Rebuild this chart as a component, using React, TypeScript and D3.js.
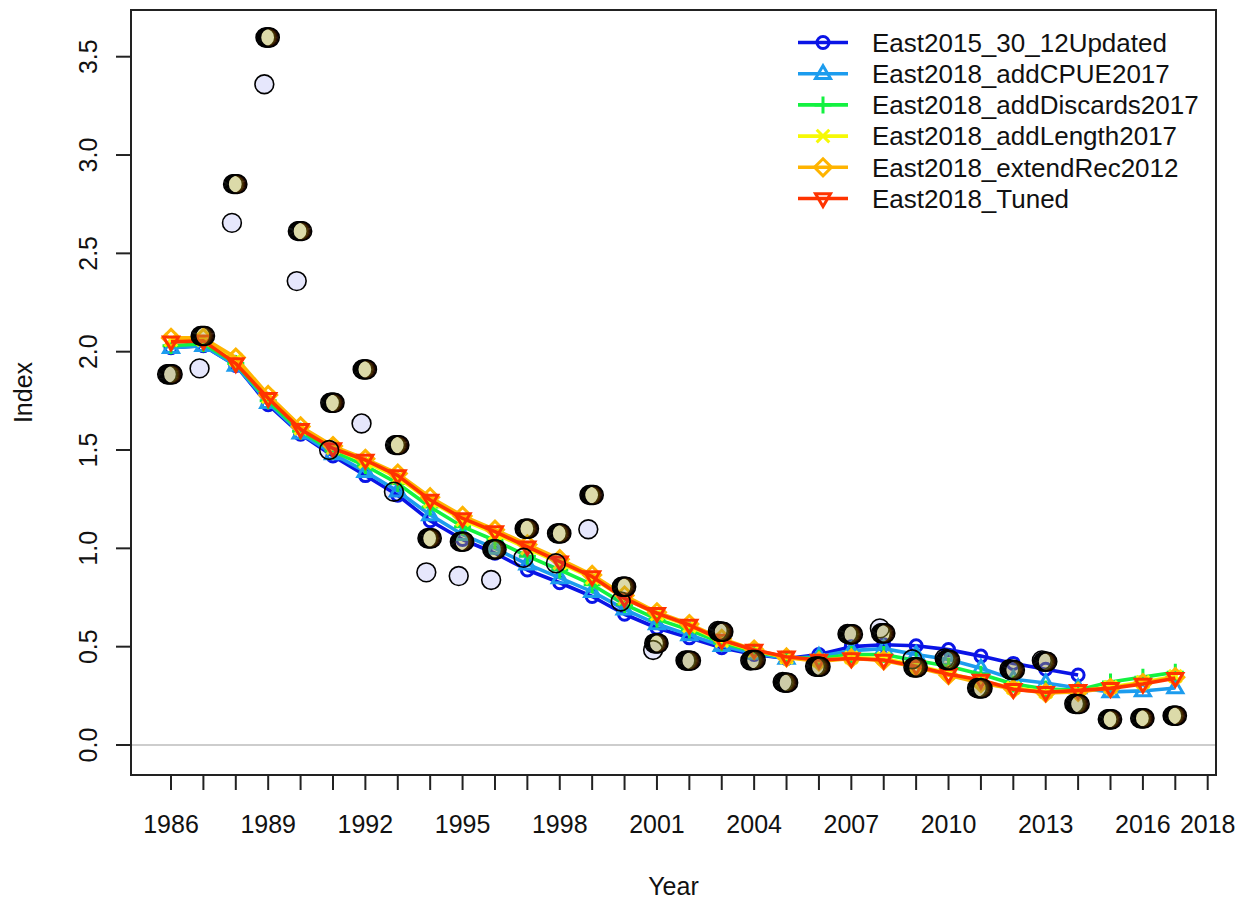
import React from "react";
import * as d3 from "d3";

const years = [1986, 1987, 1988, 1989, 1990, 1991, 1992, 1993, 1994, 1995, 1996, 1997, 1998, 1999, 2000, 2001, 2002, 2003, 2004, 2005, 2006, 2007, 2008, 2009, 2010, 2011, 2012, 2013, 2014, 2015, 2016, 2017];

const modelNames = [
  "East2015_30_12Updated",
  "East2018_addCPUE2017",
  "East2018_addDiscards2017",
  "East2018_addLength2017",
  "East2018_extendRec2012",
  "East2018_Tuned",
];
const modelColors = ["#0A14E6", "#1C9CEE", "#13F240", "#F6F905", "#FFB400", "#FF3300"];

// expected index per model
const expBlue = [2.02, 2.03, 1.93, 1.73, 1.58, 1.47, 1.37, 1.27, 1.14, 1.045, 0.975, 0.89, 0.825, 0.755, 0.665, 0.595, 0.545, 0.495, 0.46, 0.44, 0.46, 0.5, 0.51, 0.505, 0.485, 0.452, 0.415, 0.385, 0.356];
const expCpue = [2.02, 2.03, 1.93, 1.74, 1.585, 1.48, 1.39, 1.29, 1.17, 1.07, 1.0, 0.92, 0.85, 0.78, 0.69, 0.615, 0.56, 0.505, 0.465, 0.44, 0.45, 0.48, 0.49, 0.46, 0.435, 0.39, 0.335, 0.315, 0.29, 0.27, 0.275, 0.29];
const expDiscards = [2.03, 2.04, 1.94, 1.75, 1.595, 1.495, 1.42, 1.33, 1.21, 1.11, 1.04, 0.96, 0.89, 0.815, 0.715, 0.64, 0.585, 0.52, 0.475, 0.445, 0.44, 0.46, 0.46, 0.43, 0.4, 0.36, 0.31, 0.285, 0.28, 0.32, 0.345, 0.37];
const expLength = [2.06, 2.06, 1.96, 1.77, 1.61, 1.51, 1.44, 1.36, 1.24, 1.145, 1.075, 1.0, 0.925, 0.85, 0.745, 0.665, 0.605, 0.53, 0.48, 0.445, 0.43, 0.445, 0.44, 0.405, 0.365, 0.325, 0.29, 0.27, 0.275, 0.295, 0.32, 0.35];
const expRec = [2.07, 2.07, 1.97, 1.78, 1.62, 1.52, 1.455, 1.38, 1.26, 1.165, 1.095, 1.02, 0.945, 0.865, 0.76, 0.675, 0.615, 0.54, 0.485, 0.445, 0.425, 0.44, 0.43, 0.395, 0.355, 0.315, 0.285, 0.265, 0.27, 0.29, 0.315, 0.345];
const expTuned = [2.05, 2.055, 1.94, 1.763, 1.605, 1.508, 1.449, 1.37, 1.246, 1.152, 1.085, 1.008, 0.932, 0.856, 0.745, 0.67, 0.61, 0.534, 0.483, 0.449, 0.432, 0.44, 0.432, 0.4, 0.36, 0.33, 0.283, 0.268, 0.278, 0.288, 0.31, 0.339];

// observed index
const obsOld = [1.885, 1.915, 2.655, 3.36, 2.359, 1.5, 1.635, 1.288, 0.878, 0.859, 0.839, 0.952, 0.924, 1.097, 0.73, 0.483, 0.43, 0.58, 0.43, 0.32, 0.4, 0.565, 0.593, 0.436, 0.44, 0.29, 0.385, 0.43, 0.21];
const obsNew = [1.885, 2.08, 2.852, 3.598, 2.613, 1.74, 1.91, 1.525, 1.051, 1.034, 0.995, 1.1, 1.076, 1.271, 0.805, 0.517, 0.429, 0.576, 0.432, 0.317, 0.398, 0.563, 0.568, 0.395, 0.432, 0.288, 0.381, 0.424, 0.208, 0.131, 0.136, 0.149];

const expected = [expBlue, expCpue, expDiscards, expLength, expRec, expTuned];
const observed = [obsOld, obsNew, obsNew, obsNew, obsNew, obsNew];

const xTickYears = [1986, 1987, 1988, 1989, 1990, 1991, 1992, 1993, 1994, 1995, 1996, 1997, 1998, 1999, 2000, 2001, 2002, 2003, 2004, 2005, 2006, 2007, 2008, 2009, 2010, 2011, 2012, 2013, 2014, 2015, 2016, 2017, 2018];
const xLabelYears = [1986, 1989, 1992, 1995, 1998, 2001, 2004, 2007, 2010, 2013, 2016, 2018];
const yTicks = [0, 0.5, 1, 1.5, 2, 2.5, 3, 3.5];

const FONT = "'Liberation Sans', Arial, Helvetica, sans-serif";

function Marker({ kind, cx, cy, color }: { kind: number; cx: number; cy: number; color: string }) {
  const sw = 3;
  const common = { fill: "none", stroke: color, strokeWidth: sw };
  switch (kind) {
    case 0:
      return <circle cx={cx} cy={cy} r={6} {...common} />;
    case 1:
      return <polygon points={`${cx},${cy - 8} ${cx + 7.5},${cy + 4.8} ${cx - 7.5},${cy + 4.8}`} {...common} strokeLinejoin="miter" />;
    case 2:
      return <path d={`M${cx - 8.5},${cy}H${cx + 8.5}M${cx},${cy - 8.5}V${cy + 8.5}`} {...common} />;
    case 3:
      return <path d={`M${cx - 6.3},${cy - 6.3}L${cx + 6.3},${cy + 6.3}M${cx - 6.3},${cy + 6.3}L${cx + 6.3},${cy - 6.3}`} {...common} />;
    case 4:
      return <polygon points={`${cx},${cy - 8.5} ${cx + 8.5},${cy} ${cx},${cy + 8.5} ${cx - 8.5},${cy}`} {...common} />;
    default:
      return <polygon points={`${cx},${cy + 8} ${cx + 7.5},${cy - 4.8} ${cx - 7.5},${cy - 4.8}`} {...common} strokeLinejoin="miter" />;
  }
}

export default function App() {
  const W = 1246;
  const H = 901;
  const box = { left: 131, right: 1216, top: 10, bottom: 775 };
  const x = d3.scaleLinear().domain([1986, 2018]).range([171, 1207.7]);
  const y = d3.scaleLinear().domain([0, 3.5]).range([745, 56.7]);
  const line = d3
    .line<number>()
    .x((_, i) => x(years[i]))
    .y((d) => y(d));

  const legendX0 = 798;
  const legendX1 = 848;
  const legendY0 = 42.5;
  const legendStep = 31.2;

  return (
    <div style={{ position: "absolute", left: 0, top: 0 }}>
      <svg width={W} height={H} style={{ display: "block", background: "#fff" }} fontFamily={FONT}>
        <rect x={0} y={0} width={W} height={H} fill="#fff" />
        {/* zero line */}
        <line x1={box.left} x2={box.right} y1={y(0)} y2={y(0)} stroke="#bdbdbd" strokeWidth={1.6} />

        {/* model lines */}
        {expected.map((vals, m) => (
          <g key={"l" + m}>
            <path d={line(vals) || ""} fill="none" stroke={modelColors[m]} strokeWidth={3.6} strokeLinejoin="round" />
            {vals.map((v, i) => (
              <Marker key={i} kind={m} cx={x(years[i])} cy={y(v)} color={modelColors[m]} />
            ))}
          </g>
        ))}

        {/* observations */}
        {observed.map((vals, m) => (
          <g key={"o" + m}>
            {vals.map((v, i) => (
              <circle
                key={i}
                cx={x(years[i]) + (m - 3.5) * 1.1}
                cy={y(v)}
                r={9.4}
                fill={modelColors[m]}
                fillOpacity={0.1}
                stroke="#000"
                strokeWidth={1.6}
              />
            ))}
          </g>
        ))}

        {/* box */}
        <rect x={box.left} y={box.top} width={box.right - box.left} height={box.bottom - box.top} fill="none" stroke="#222" strokeWidth={2} />

        {/* x axis */}
        {xTickYears.map((yr) => (
          <line key={"xt" + yr} x1={x(yr)} x2={x(yr)} y1={box.bottom} y2={box.bottom + 15} stroke="#222" strokeWidth={2} />
        ))}
        {xLabelYears.map((yr) => (
          <text key={"xl" + yr} x={x(yr)} y={833} textAnchor="middle" fontSize={25} fill="#111">
            {yr}
          </text>
        ))}
        <text x={(box.left + box.right) / 2} y={895} textAnchor="middle" fontSize={25} fill="#111">
          Year
        </text>

        {/* y axis */}
        {yTicks.map((t) => (
          <g key={"yt" + t}>
            <line x1={box.left - 15} x2={box.left} y1={y(t)} y2={y(t)} stroke="#222" strokeWidth={2} />
            <text transform={`translate(96.5,${y(t)}) rotate(-90)`} textAnchor="middle" fontSize={25} fill="#111">
              {d3.format(".1f")(t)}
            </text>
          </g>
        ))}
        <text transform={`translate(31.5,${(box.top + box.bottom) / 2}) rotate(-90)`} textAnchor="middle" fontSize={25} fill="#111">
          Index
        </text>

        {/* legend */}
        {modelNames.map((name, m) => {
          const ly = legendY0 + m * legendStep;
          return (
            <g key={"lg" + m}>
              <line x1={legendX0} x2={legendX1} y1={ly} y2={ly} stroke={modelColors[m]} strokeWidth={3.6} />
              <Marker kind={m} cx={(legendX0 + legendX1) / 2} cy={ly} color={modelColors[m]} />
              <text x={872} y={ly + 9.3} fontSize={26} fill="#111">
                {name}
              </text>
            </g>
          );
        })}
      </svg>
    </div>
  );
}
